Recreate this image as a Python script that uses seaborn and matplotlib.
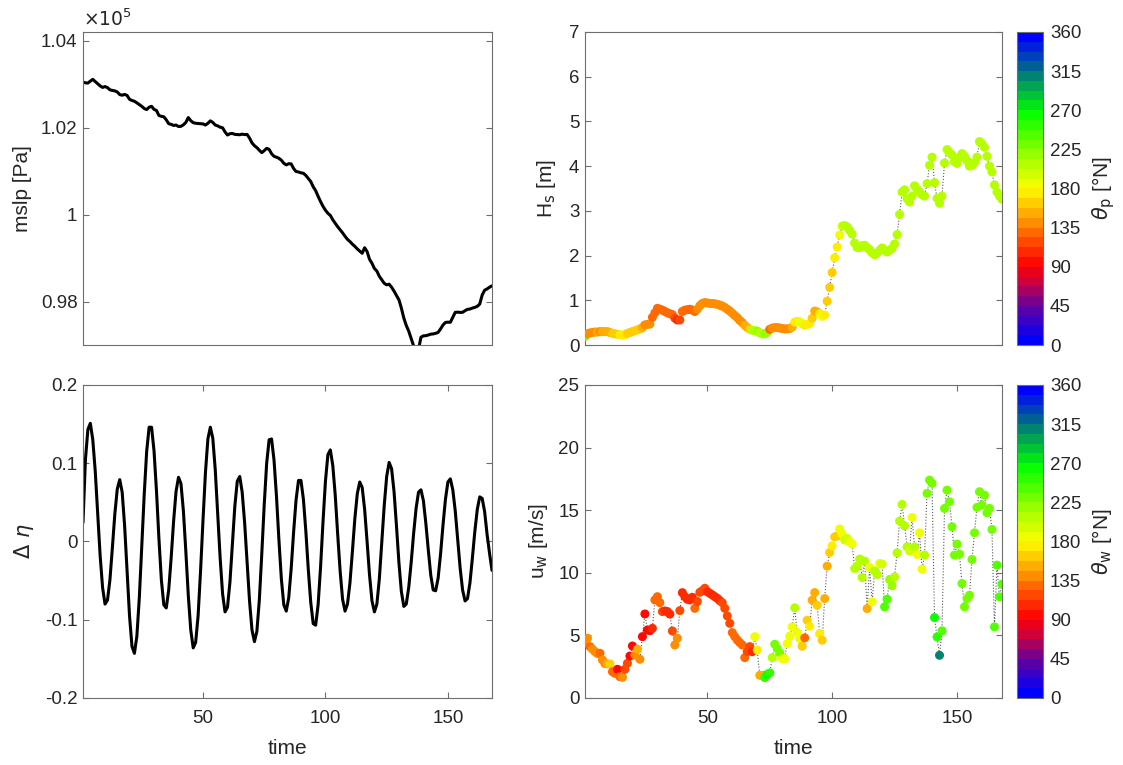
import matplotlib
matplotlib.use("Agg")
import matplotlib.pyplot as plt
import seaborn as sns
import numpy as np
from matplotlib.colors import LinearSegmentedColormap, ListedColormap, Normalize
from matplotlib.cm import ScalarMappable

# ---------------- data ----------------
time = list(range(1, 169))

mslp = [
    103048, 103030, 103025, 103070, 103110, 103060, 103009, 102960, 102925, 102945,
    102920, 102870, 102855, 102845, 102820, 102760, 102745, 102765, 102740, 102651,
    102625, 102606, 102570, 102529, 102490, 102440, 102415, 102470, 102490, 102420,
    102395, 102280, 102260, 102250, 102180, 102090, 102075, 102050, 102060, 102025,
    102030, 102065, 102120, 102232, 102160, 102115, 102100, 102095, 102090, 102085,
    102060, 102100, 102156, 102120, 102060, 102040, 102010, 101996, 101900, 101830,
    101860, 101866, 101845, 101840, 101836, 101850, 101840, 101844, 101760, 101650,
    101584, 101540, 101480, 101424, 101470, 101524, 101500, 101400, 101340, 101320,
    101295, 101250, 101180, 101143, 101170, 101166, 101060, 100990, 100980, 100960,
    100950, 100900, 100830, 100760, 100640, 100550, 100420, 100300, 100190, 100100,
    100030, 99980, 99880, 99800, 99720, 99650, 99580, 99500, 99430, 99380,
    99320, 99270, 99210, 99161, 99110, 99238, 99150, 98971, 98880, 98760,
    98700, 98580, 98500, 98420, 98384, 98399, 98330, 98240, 98140, 98040,
    97850, 97620, 97450, 97320, 97150, 96980, 96880, 96900, 97180, 97210,
    97215, 97230, 97250, 97255, 97270, 97290, 97370, 97460, 97520, 97525,
    97523, 97640, 97752, 97755, 97750, 97752, 97790, 97820, 97828, 97850,
    97866, 97890, 97942, 98150, 98260, 98290, 98330, 98361,
]

d_eta = [
    0.024, 0.105, 0.143, 0.151, 0.130, 0.090, 0.036, -0.018, -0.059, -0.080,
    -0.075, -0.049, -0.008, 0.035, 0.067, 0.079, 0.063, 0.020, -0.038, -0.095,
    -0.134, -0.143, -0.121, -0.072, -0.007, 0.060, 0.115, 0.146, 0.146, 0.116,
    0.065, 0.004, -0.049, -0.081, -0.085, -0.062, -0.021, 0.026, 0.064, 0.082,
    0.074, 0.039, -0.013, -0.069, -0.113, -0.136, -0.129, -0.095, -0.038, 0.027,
    0.088, 0.131, 0.146, 0.132, 0.092, 0.036, -0.021, -0.067, -0.090, -0.084,
    -0.052, -0.004, 0.045, 0.077, 0.083, 0.063, 0.024, -0.027, -0.076, -0.113,
    -0.128, -0.115, -0.075, -0.016, 0.047, 0.100, 0.130, 0.131, 0.104, 0.058,
    0.002, -0.048, -0.081, -0.089, -0.072, -0.035, 0.012, 0.053, 0.078, 0.078,
    0.054, 0.013, -0.036, -0.078, -0.105, -0.107, -0.081, -0.033, 0.025, 0.077,
    0.111, 0.117, 0.097, 0.059, 0.009, -0.038, -0.074, -0.089, -0.080, -0.053,
    -0.013, 0.029, 0.061, 0.076, 0.069, 0.041, 0.000, -0.043, -0.076, -0.090,
    -0.080, -0.048, -0.002, 0.046, 0.083, 0.101, 0.093, 0.064, 0.020, -0.027,
    -0.064, -0.083, -0.080, -0.059, -0.027, 0.010, 0.042, 0.063, 0.066, 0.052,
    0.023, -0.011, -0.043, -0.062, -0.063, -0.047, -0.016, 0.021, 0.054, 0.076,
    0.080, 0.066, 0.039, 0.002, -0.034, -0.062, -0.076, -0.073, -0.053, -0.021,
    0.013, 0.041, 0.057, 0.055, 0.038, 0.009, -0.015, -0.037,
]

hs = [
    0.19, 0.25, 0.27, 0.28, 0.29, 0.29, 0.30, 0.30, 0.30, 0.30,
    0.28, 0.26, 0.25, 0.24, 0.23, 0.22, 0.23, 0.26, 0.28, 0.30,
    0.32, 0.34, 0.36, 0.39, 0.45, 0.46, 0.47, 0.62, 0.72, 0.82,
    0.80, 0.78, 0.75, 0.72, 0.70, 0.68, 0.60, 0.56, 0.56, 0.75,
    0.78, 0.79, 0.80, 0.78, 0.75, 0.80, 0.88, 0.93, 0.95, 0.94,
    0.93, 0.93, 0.92, 0.91, 0.89, 0.87, 0.84, 0.80, 0.76, 0.71,
    0.66, 0.61, 0.55, 0.50, 0.44, 0.39, 0.35, 0.33, 0.32, 0.31,
    0.27, 0.25, 0.25, 0.28, 0.35, 0.38, 0.39, 0.39, 0.38, 0.37,
    0.36, 0.36, 0.37, 0.40, 0.51, 0.53, 0.52, 0.47, 0.44, 0.46,
    0.48, 0.60, 0.76, 0.74, 0.70, 0.64, 0.67, 0.98, 1.29, 1.62,
    1.95, 2.19, 2.46, 2.66, 2.67, 2.64, 2.56, 2.48, 2.28, 2.18,
    2.18, 2.22, 2.23, 2.18, 2.13, 2.06, 2.02, 2.06, 2.12, 2.17,
    2.12, 2.08, 2.12, 2.16, 2.26, 2.47, 2.92, 3.42, 3.47, 3.27,
    3.20, 3.33, 3.56, 3.48, 3.42, 3.36, 3.33, 3.61, 4.02, 4.20,
    3.63, 3.28, 3.17, 3.33, 4.07, 4.37, 4.30, 4.25, 4.10, 4.06,
    4.20, 4.28, 4.22, 4.12, 4.00, 4.02, 4.08, 4.20, 4.55, 4.50,
    4.42, 4.22, 4.00, 3.87, 3.58, 3.42, 3.33, 3.26,
]

theta_p = [
    225, 140, 140, 145, 145, 150, 145, 150, 150, 150,
    155, 160, 165, 168, 170, 172, 170, 168, 165, 165,
    165, 160, 160, 155, 140, 140, 140, 125, 128, 130,
    130, 132, 132, 132, 130, 125, 115, 112, 115, 125,
    128, 128, 130, 130, 128, 135, 138, 140, 140, 140,
    140, 140, 140, 140, 140, 142, 142, 142, 145, 145,
    145, 145, 145, 145, 148, 150, 165, 205, 210, 215,
    212, 210, 215, 215, 130, 135, 138, 140, 140, 140,
    140, 140, 140, 150, 175, 178, 180, 182, 178, 175,
    170, 160, 150, 150, 175, 180, 178, 165, 165, 168,
    170, 172, 180, 195, 205, 208, 210, 210, 210, 212,
    210, 210, 212, 210, 210, 212, 210, 210, 212, 210,
    210, 212, 210, 210, 208, 208, 208, 208, 208, 208,
    208, 208, 205, 205, 205, 205, 205, 208, 208, 208,
    208, 208, 208, 208, 208, 208, 208, 208, 208, 208,
    208, 208, 208, 208, 208, 208, 208, 208, 208, 208,
    208, 208, 208, 208, 208, 208, 208, 208,
]

uw = [
    4.42, 4.77, 4.10, 3.90, 3.70, 3.55, 3.57, 3.04, 2.75, 2.72,
    2.72, 2.10, 1.97, 2.29, 1.70, 1.65, 2.29, 2.77, 3.35, 4.15,
    3.43, 3.89, 3.09, 4.90, 6.71, 5.43, 5.38, 5.56, 7.83, 8.09,
    7.61, 6.90, 6.95, 6.90, 6.70, 5.35, 4.23, 4.77, 6.98, 8.41,
    8.09, 7.88, 7.83, 8.04, 7.16, 7.70, 8.44, 8.57, 8.76, 8.49,
    8.36, 8.23, 8.09, 7.96, 7.77, 7.61, 7.16, 6.55, 5.96, 5.22,
    4.90, 4.63, 4.42, 4.23, 3.22, 3.70, 4.10, 3.70, 4.90, 3.83,
    1.81, 1.81, 1.63, 1.89, 2.00, 3.22, 4.29, 3.94, 3.60, 3.14,
    3.14, 4.34, 4.93, 5.68, 7.20, 5.22, 4.74, 4.13, 4.80, 6.21,
    5.73, 7.81, 8.42, 7.41, 5.14, 4.61, 7.94, 10.53, 11.62, 12.15,
    12.87, 12.93, 13.49, 13.09, 12.61, 12.74, 12.47, 12.29, 10.34, 10.53,
    11.09, 9.62, 10.93, 7.14, 10.42, 7.68, 10.15, 9.86, 10.74, 10.69,
    7.28, 7.89, 9.46, 8.96, 9.67, 11.59, 14.13, 15.46, 13.75, 12.07,
    11.73, 14.42, 12.07, 11.46, 13.19, 10.29, 11.41, 16.34, 17.40, 17.14,
    6.42, 4.88, 3.41, 5.36, 15.14, 16.60, 15.67, 13.67, 11.41, 12.29,
    11.49, 9.14, 7.28, 7.94, 8.21, 11.06, 13.19, 15.22, 16.47, 15.41,
    16.20, 14.79, 15.14, 13.46, 5.68, 10.61, 8.08, 9.09,
]

theta_w = [
    135, 135, 130, 135, 135, 135, 130, 135, 140, 155,
    158, 130, 128, 100, 130, 140, 120, 118, 95, 95,
    140, 155, 135, 100, 100, 100, 100, 105, 125, 125,
    125, 115, 110, 105, 110, 118, 135, 135, 115, 105,
    105, 105, 105, 105, 130, 115, 115, 115, 115, 105,
    105, 105, 105, 108, 110, 115, 115, 118, 120, 125,
    130, 130, 130, 130, 125, 115, 118, 112, 180, 170,
    150, 150, 255, 260, 250, 210, 235, 235, 225, 185,
    185, 185, 185, 188, 205, 180, 182, 160, 125, 160,
    175, 150, 150, 160, 178, 160, 150, 150, 165, 175,
    168, 168, 180, 182, 200, 200, 185, 185, 205, 208,
    210, 210, 205, 150, 185, 180, 205, 205, 190, 200,
    245, 245, 220, 220, 210, 210, 210, 210, 210, 210,
    195, 182, 205, 185, 185, 180, 205, 235, 235, 235,
    265, 255, 310, 245, 235, 235, 235, 235, 235, 225,
    225, 235, 235, 235, 235, 235, 235, 235, 235, 235,
    235, 235, 235, 235, 240, 240, 240, 240,
]

time_ticks = [50, 100, 150]
mslp_ticks = [98000, 100000, 102000, 104000]
mslp_ticklabels = ["0.98", "1", "1.02", "1.04"]
eta_ticks = [-0.2, -0.1, 0, 0.1, 0.2]
eta_ticklabels = ["-0.2", "-0.1", "0", "0.1", "0.2"]
hs_ticks = [0, 1, 2, 3, 4, 5, 6, 7]
uw_ticks = [0, 5, 10, 15, 20, 25]
dir_ticks = [0, 45, 90, 135, 180, 225, 270, 315, 360]

# ---------------- style ----------------
sns.set_theme(style="white")
plt.rcParams["font.family"] = ["Liberation Sans", "DejaVu Sans"]
plt.rcParams["axes.unicode_minus"] = False
plt.rcParams["mathtext.fontset"] = "dejavusans"

TXT = "#262626"
EDGE = "#6e6e6e"
TICK_FS = 13.5
LAB_FS = 15

# cyclic direction colormap, 32 discrete levels
anchor_pos = [0.0, 0.125, 0.1875, 0.25, 0.375, 0.5, 0.625, 0.75, 0.875, 1.0]
anchor_col = [(0.0, 0.0, 1.0), (0.45, 0.0, 0.55), (0.8, 0.0, 0.25), (1.0, 0.0, 0.0),
              (1.0, 0.5, 0.0), (1.0, 1.0, 0.0), (0.55, 1.0, 0.0), (0.0, 1.0, 0.0),
              (0.0, 0.5, 0.45), (0.0, 0.0, 1.0)]
base = LinearSegmentedColormap.from_list("dircyc", list(zip(anchor_pos, anchor_col)))
cmap = ListedColormap(base(np.linspace(0, 1, 32)))
norm = Normalize(0, 360)

fig = plt.figure(figsize=(11.23, 7.65), dpi=100)
ax_tl = fig.add_axes([0.0739, 0.549, 0.3642, 0.4092])
ax_bl = fig.add_axes([0.0739, 0.0876, 0.3642, 0.4092])
ax_tr = fig.add_axes([0.5209, 0.549, 0.3713, 0.4092])
ax_br = fig.add_axes([0.5209, 0.0876, 0.3713, 0.4092])
cax_t = fig.add_axes([0.9056, 0.549, 0.0232, 0.4092])
cax_b = fig.add_axes([0.9056, 0.0876, 0.0232, 0.4092])


def style_axes(ax, xticks_on):
    for s in ax.spines.values():
        s.set_color(EDGE)
        s.set_linewidth(0.8)
        s.set_visible(True)
    ax.tick_params(axis="both", direction="in", length=4, width=0.8, colors=EDGE,
                   labelcolor=TXT, labelsize=TICK_FS, right=True, left=True,
                   top=xticks_on, bottom=xticks_on)
    ax.tick_params(axis="y", pad=4)
    ax.tick_params(axis="x", pad=9)
    ax.set_xlim(1, 168)
    if xticks_on:
        ax.set_xticks(time_ticks)
        ax.set_xticklabels([str(v) for v in time_ticks])
        ax.set_xlabel("time", fontsize=LAB_FS, color=TXT, labelpad=8)
    else:
        ax.set_xticks([])
        ax.set_xlabel("")


# top-left: mslp
sns.lineplot(x=time, y=mslp, ax=ax_tl, color="black", linewidth=2.2, errorbar=None)
ax_tl.set_ylim(97000, 104200)
ax_tl.set_yticks(mslp_ticks)
ax_tl.set_yticklabels(mslp_ticklabels)
ax_tl.set_ylabel("mslp [Pa]", fontsize=LAB_FS, color=TXT, labelpad=6)
style_axes(ax_tl, False)
ax_tl.text(0.0, 1.005, r"$\times10^5$", transform=ax_tl.transAxes, ha="left",
           va="bottom", fontsize=TICK_FS, color=TXT)

# bottom-left: delta eta
sns.lineplot(x=time, y=d_eta, ax=ax_bl, color="black", linewidth=2.2, errorbar=None)
ax_bl.set_ylim(-0.2, 0.2)
ax_bl.set_yticks(eta_ticks)
ax_bl.set_yticklabels(eta_ticklabels)
ax_bl.set_ylabel(r"$\Delta\ \eta$", fontsize=LAB_FS, color=TXT, labelpad=6)
style_axes(ax_bl, True)

# top-right: Hs coloured by theta_p
sns.lineplot(x=time, y=hs, ax=ax_tr, color="0.35", linewidth=0.8, linestyle=":",
             errorbar=None, zorder=2)
sns.scatterplot(x=time, y=hs, hue=theta_p, palette=cmap, hue_norm=norm, ax=ax_tr,
                s=42, linewidth=0, legend=False, zorder=3)
ax_tr.set_ylim(0, 7)
ax_tr.set_yticks(hs_ticks)
ax_tr.set_yticklabels([str(v) for v in hs_ticks])
ax_tr.set_ylabel(r"H$_{\rm s}$ [m]", fontsize=LAB_FS, color=TXT, labelpad=8)
style_axes(ax_tr, False)

# bottom-right: uw coloured by theta_w
sns.lineplot(x=time, y=uw, ax=ax_br, color="0.35", linewidth=0.8, linestyle=":",
             errorbar=None, zorder=2)
sns.scatterplot(x=time, y=uw, hue=theta_w, palette=cmap, hue_norm=norm, ax=ax_br,
                s=42, linewidth=0, legend=False, zorder=3)
ax_br.set_ylim(0, 25)
ax_br.set_yticks(uw_ticks)
ax_br.set_yticklabels([str(v) for v in uw_ticks])
ax_br.set_ylabel(r"u$_{\rm w}$ [m/s]", fontsize=LAB_FS, color=TXT, labelpad=6)
style_axes(ax_br, True)

# colorbars
for cax, lab in [(cax_t, r"$\theta_{\rm p}$ [°N]"), (cax_b, r"$\theta_{\rm w}$ [°N]")]:
    cb = fig.colorbar(ScalarMappable(norm=norm, cmap=cmap), cax=cax, ticks=dir_ticks)
    cb.outline.set_edgecolor(EDGE)
    cb.outline.set_linewidth(0.8)
    cb.ax.tick_params(direction="in", length=3, width=0.8, colors=EDGE,
                      labelcolor=TXT, labelsize=TICK_FS, pad=5)
    cb.set_ticklabels([str(v) for v in dir_ticks])
    cb.set_label(lab, fontsize=LAB_FS, color=TXT, labelpad=6)

fig.savefig("out.png", dpi=100, facecolor="white")
